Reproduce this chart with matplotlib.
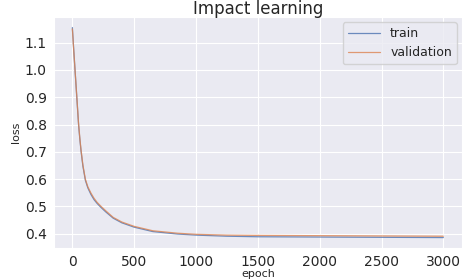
import matplotlib
matplotlib.use("Agg")
import matplotlib.pyplot as plt
import seaborn as sns

# loss values at selected epochs
epochs = [0, 10, 20, 30, 40, 50, 60, 70, 85, 105, 125, 150, 175, 200, 230,
          270, 330, 400, 500, 650, 850, 1000, 1250, 1500, 2000, 2500, 2999]
train_loss = [1.155, 1.080, 1.010, 0.940, 0.870, 0.800, 0.748, 0.703, 0.648,
              0.596, 0.568, 0.544, 0.525, 0.511, 0.497, 0.480, 0.457, 0.440,
              0.424, 0.408, 0.399, 0.395, 0.391, 0.389, 0.388, 0.387, 0.386]
val_loss = [1.150, 1.078, 1.010, 0.942, 0.873, 0.804, 0.752, 0.707, 0.652,
            0.600, 0.572, 0.549, 0.530, 0.515, 0.501, 0.484, 0.460, 0.443,
            0.427, 0.411, 0.402, 0.398, 0.395, 0.394, 0.393, 0.392, 0.391]

sns.set_style("darkgrid")
plt.rcParams["font.family"] = ["DejaVu Sans"]

fig = plt.figure(figsize=(4.68, 2.8), dpi=100)
fig.subplots_adjust(left=0.115, right=0.987, bottom=0.114, top=0.939)
ax = fig.add_subplot(111)

ax.plot(epochs, train_loss, color="#4c72b0", lw=0.9, alpha=0.8, label="train")
ax.plot(epochs, val_loss, color="#dd8452", lw=0.9, alpha=0.8, label="validation")

ax.set_title("Impact learning", fontsize=12, pad=2)
ax.set_xlabel("epoch", fontsize=8, labelpad=0)
ax.set_ylabel("loss", fontsize=8, labelpad=3)
ax.set_xticks([0, 500, 1000, 1500, 2000, 2500, 3000])
ax.set_yticks([0.4, 0.5, 0.6, 0.7, 0.8, 0.9, 1.0, 1.1])
ax.tick_params(labelsize=10, pad=1.5)
ax.legend(loc="upper right", fontsize=9, handlelength=2.6,
          borderaxespad=0.4)

fig.savefig("out.png", dpi=100)
